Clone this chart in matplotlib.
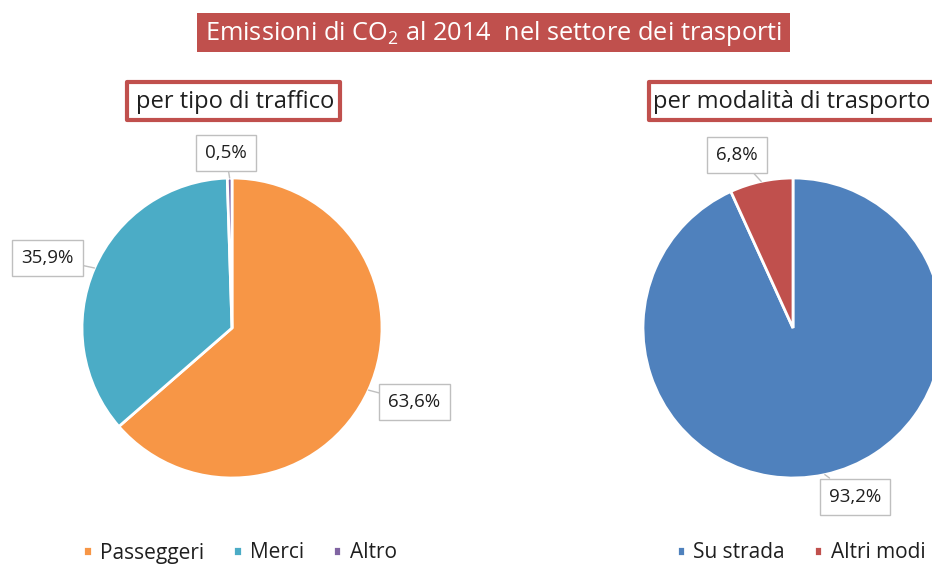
import numpy as np
import matplotlib
matplotlib.use("Agg")
import matplotlib.pyplot as plt
from matplotlib.patches import Rectangle

plt.rcParams['font.family'] = ['Open Sans', 'DejaVu Sans']
plt.rcParams['mathtext.fontset'] = 'custom'
plt.rcParams['mathtext.rm'] = 'Open Sans'
plt.rcParams['mathtext.it'] = 'Open Sans:italic'
plt.rcParams['mathtext.bf'] = 'Open Sans:bold'

# Data
title = "Emissioni di CO$_2$ al 2014  nel settore dei trasporti"
traffic_title = "per tipo di traffico"
traffic_labels = ["Passeggeri", "Merci", "Altro"]
traffic_values = [63.6, 35.9, 0.5]
mode_title = "per modalità di trasporto"
mode_labels = ["Su strada", "Altri modi"]
mode_values = [93.2, 6.8]

traffic_colors = ["#F79646", "#4BACC6", "#8064A2"]
mode_colors = ["#4F81BD", "#C0504D"]
red = "#C0504D"
text_color = "#1f1f1f"

W, H = 932, 565


def fx(px):
    return px / W


def fy(py):
    return 1 - py / H


def fig_box(fig, x0, y0, x1, y1, face, edge=None, lw=0):
    # rectangle given in pixel coords (top-left origin)
    r = Rectangle((fx(x0), fy(y1)), fx(x1) - fx(x0), fy(y0) - fy(y1),
                  transform=fig.transFigure, facecolor=face,
                  edgecolor=edge if edge else face, linewidth=lw,
                  joinstyle="round", zorder=0)
    fig.patches.append(r)


def draw_pie(fig, cx, cy, r, values, colors, offsets):
    ax = fig.add_axes([fx(cx - r), fy(cy + r), (2 * r) / W, (2 * r) / H])
    wedges, _ = ax.pie(values, colors=colors, startangle=90, counterclock=False,
                       radius=1, wedgeprops=dict(edgecolor="white", linewidth=2))
    ax.set_xlim(-1, 1)
    ax.set_ylim(-1, 1)
    ax.set_aspect("equal")
    ax.axis("off")
    # data labels with callout line, offsets in pixels from the wedge edge
    for w, v, off in zip(wedges, values, offsets):
        mid = np.deg2rad((w.theta1 + w.theta2) / 2)
        pt = (np.cos(mid), np.sin(mid))
        txt = f"{v:.1f}%".replace(".", ",")
        ax.annotate(txt, xy=pt, xytext=off, textcoords="offset pixels",
                    ha="center", va="center", fontsize=13.5, color=text_color,
                    annotation_clip=False,
                    bbox=dict(boxstyle="square,pad=0.48", fc="white",
                              ec="#BFBFBF", lw=1),
                    arrowprops=dict(arrowstyle="-", color="#BFBFBF", lw=1,
                                    shrinkA=0, shrinkB=0))
    return wedges


fig = plt.figure(figsize=(W / 100, H / 100), dpi=100)

# main title
fig_box(fig, 197, 13, 790, 52, red)
fig.text(fx(494), fy(33), title, color="white", fontsize=18.3,
         ha="center", va="center")

# subtitles
fig_box(fig, 127, 82, 340, 120, "white", red, 3)
fig.text(fx(235), fy(102), traffic_title, color=text_color, fontsize=17,
         ha="center", va="center")
fig_box(fig, 649, 82, 960, 120, "white", red, 3)
fig.text(fx(792), fy(102), mode_title, color=text_color, fontsize=17,
         ha="center", va="center")

w1 = draw_pie(fig, 232, 328, 150, traffic_values, traffic_colors,
              [(46, -12), (-47, 10), (-4, 25)])
w2 = draw_pie(fig, 793, 328, 150, mode_values, mode_colors,
              [(30, -22), (-24, 26)])

leg_kw = dict(loc="center", frameon=False, fontsize=15, handlelength=0.4,
              handleheight=0.4, handletextpad=0.4, columnspacing=1.4,
              labelcolor=text_color)
fig.legend(w1, traffic_labels, bbox_to_anchor=(fx(240), fy(553)), ncol=3, **leg_kw)
fig.legend(w2, mode_labels, bbox_to_anchor=(fx(801), fy(553)), ncol=2, **leg_kw)

fig.savefig("out.png", dpi=100)
